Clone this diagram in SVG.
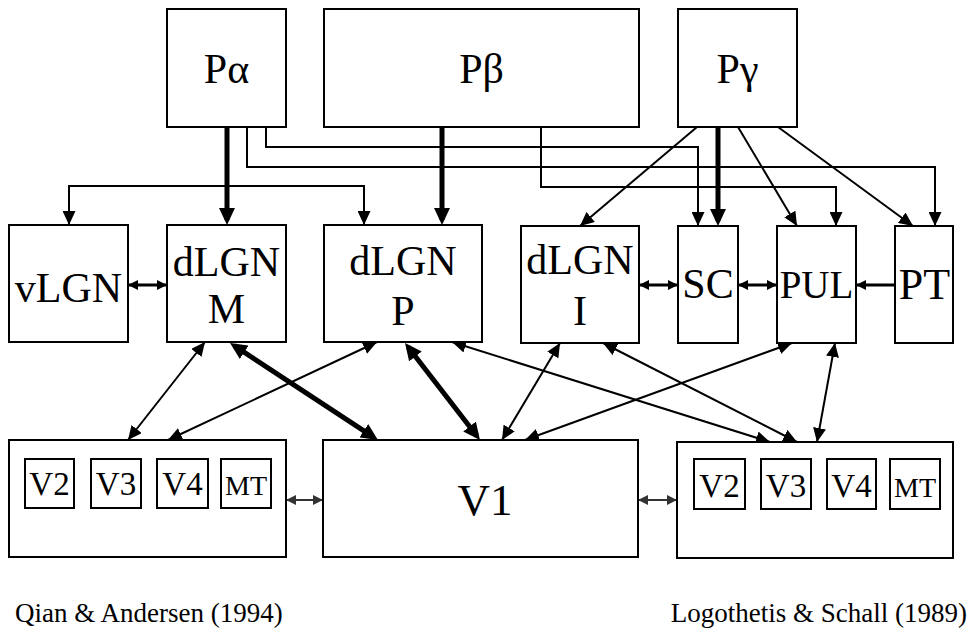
<svg xmlns="http://www.w3.org/2000/svg" width="970" height="631" viewBox="0 0 970 631">
<style>
  .box { fill: #fff; stroke: #000; stroke-width: 2; }
  .sbox { fill: #fff; stroke: #000; stroke-width: 2; }
  .lbl { font-family: "Liberation Serif", "Times New Roman", serif; fill: #000; text-anchor: middle; }
  .big { font-size: 42px; }
  .small { font-size: 33px; }
  .cap { font-family: "Liberation Serif", "Times New Roman", serif; font-size: 27px; fill: #000; }
  .thin { fill: none; stroke: #000; stroke-width: 2; }
  .thick { fill: none; stroke: #000; stroke-width: 5; }
  .hz { fill: none; stroke: #000; stroke-width: 3; }
  .gz { fill: none; stroke: #333; stroke-width: 2; }
</style>
<defs>
  <marker id="ah" viewBox="0 0 14 13" markerWidth="14" markerHeight="13" refX="14" refY="6.5" orient="auto-start-reverse" markerUnits="userSpaceOnUse">
    <path d="M0,0 L14,6.5 L0,13 z" fill="#000"/>
  </marker>
  <marker id="ahT" viewBox="0 0 17 16" markerWidth="17" markerHeight="16" refX="12" refY="8" orient="auto-start-reverse" markerUnits="userSpaceOnUse">
    <path d="M0,0 L17,8 L0,16 z" fill="#000"/>
  </marker>
  <marker id="ahS" viewBox="0 0 10 10" markerWidth="10" markerHeight="10" refX="10" refY="5" orient="auto-start-reverse" markerUnits="userSpaceOnUse">
    <path d="M0,0 L10,5 L0,10 z" fill="#000"/>
  </marker>
  <marker id="ahG" viewBox="0 0 10 10" markerWidth="10" markerHeight="10" refX="10" refY="5" orient="auto-start-reverse" markerUnits="userSpaceOnUse">
    <path d="M0,0 L10,5 L0,10 z" fill="#333"/>
  </marker>
</defs>
<rect width="970" height="631" fill="#fff"/>

<g id="connectors">
  <!-- from P-alpha -->
  <path class="thick" d="M227,127 V220" marker-end="url(#ahT)"/>
  <path class="thin" d="M227,186 H69 V225" marker-end="url(#ah)"/>
  <path class="thin" d="M227,186 H364 V225" marker-end="url(#ah)"/>
  <path class="thin" d="M266,127 V147 H698 V226" marker-end="url(#ah)"/>
  <path class="thin" d="M247,127 V167 H935 V226" marker-end="url(#ah)"/>
  <!-- from P-beta -->
  <path class="thick" d="M442,127 V220" marker-end="url(#ahT)"/>
  <path class="thin" d="M541,127 V187 H836 V226" marker-end="url(#ah)"/>
  <!-- from P-gamma -->
  <path class="thick" d="M718,127 V221" marker-end="url(#ahT)"/>
  <path class="thin" d="M697,127 L580,226" marker-end="url(#ah)"/>
  <path class="thin" d="M738,127 L797,226" marker-end="url(#ah)"/>
  <path class="thin" d="M778,127 L913,226" marker-end="url(#ah)"/>
  <!-- middle row horizontals -->
  <path class="hz" d="M128,285 H167" marker-start="url(#ahS)" marker-end="url(#ahS)"/>
  <path class="hz" d="M639,285 H678" marker-start="url(#ahS)" marker-end="url(#ahS)"/>
  <path class="hz" d="M738,285 H777" marker-start="url(#ahS)" marker-end="url(#ahS)"/>
  <path class="hz" d="M895,285 H856" marker-end="url(#ahS)"/>
  <!-- middle to bottom -->
  <path class="thin" d="M205,342 L128,440" marker-start="url(#ah)" marker-end="url(#ah)"/>
  <path class="thick" d="M234.2,345.7 L373.8,437.3" marker-start="url(#ahT)" marker-end="url(#ahT)"/>
  <path class="thin" d="M377,342 L168,440" marker-start="url(#ah)" marker-end="url(#ah)"/>
  <path class="thick" d="M408.1,347 L476.9,436" marker-start="url(#ahT)" marker-end="url(#ahT)"/>
  <path class="thin" d="M452,342 L770,442" marker-start="url(#ah)" marker-end="url(#ah)"/>
  <path class="thin" d="M560,343 L502,440" marker-start="url(#ah)" marker-end="url(#ah)"/>
  <path class="thin" d="M603,343 L797,442" marker-start="url(#ah)" marker-end="url(#ah)"/>
  <path class="thin" d="M792,343 L525,440" marker-start="url(#ah)" marker-end="url(#ah)"/>
  <path class="thin" d="M835,343 L817,442" marker-start="url(#ah)" marker-end="url(#ah)"/>
  <!-- bottom horizontals -->
  <path class="gz" d="M286,500 H323" marker-start="url(#ahG)" marker-end="url(#ahG)"/>
  <path class="gz" d="M638,500 H677" marker-start="url(#ahG)" marker-end="url(#ahG)"/>
</g>

<g id="P-alpha">
  <rect class="box" x="167" y="9" width="119" height="118"/>
  <text class="lbl big" x="226.5" y="83">Pα</text>
</g>
<g id="P-beta">
  <rect class="box" x="324" y="9" width="315" height="118"/>
  <text class="lbl big" x="481.5" y="83">Pβ</text>
</g>
<g id="P-gamma">
  <rect class="box" x="678" y="9" width="119" height="118"/>
  <text class="lbl big" x="737.5" y="83">Pγ</text>
</g>

<g id="vLGN">
  <rect class="box" x="9" y="225" width="119" height="117"/>
  <text class="lbl big" x="68.5" y="302">vLGN</text>
</g>
<g id="dLGN-M">
  <rect class="box" x="167" y="225" width="119" height="117"/>
  <text class="lbl big" x="226.5" y="276">dLGN</text>
  <text class="lbl big" x="226.5" y="323">M</text>
</g>
<g id="dLGN-P">
  <rect class="box" x="324" y="225" width="158" height="117"/>
  <text class="lbl big" x="403" y="275">dLGN</text>
  <text class="lbl big" x="403" y="325">P</text>
</g>
<g id="dLGN-I">
  <rect class="box" x="521" y="226" width="118" height="117"/>
  <text class="lbl big" x="580" y="274">dLGN</text>
  <text class="lbl big" x="580" y="325">I</text>
</g>
<g id="SC">
  <rect class="box" x="678" y="226" width="60" height="117"/>
  <text class="lbl big" x="708" y="298">SC</text>
</g>
<g id="PUL">
  <rect class="box" x="777" y="226" width="79" height="117"/>
  <text class="lbl" x="816.5" y="298" font-size="39">PUL</text>
</g>
<g id="PT">
  <rect class="box" x="895" y="226" width="58" height="117"/>
  <text class="lbl" x="924.5" y="299" font-size="44">PT</text>
</g>

<g id="extrastriate-left">
  <rect class="box" x="9" y="440" width="277" height="117"/>
  <rect class="sbox" x="25" y="459" width="49" height="49"/>
  <text class="lbl small" x="49.5" y="495">V2</text>
  <rect class="sbox" x="91" y="459" width="50" height="49"/>
  <text class="lbl small" x="116" y="495">V3</text>
  <rect class="sbox" x="157" y="459" width="51" height="49"/>
  <text class="lbl small" x="182.5" y="495">V4</text>
  <rect class="sbox" x="221" y="459" width="50" height="49"/>
  <text class="lbl" x="246" y="495" font-size="28">MT</text>
</g>
<g id="V1">
  <rect class="box" x="323" y="440" width="315" height="117"/>
  <text class="lbl" x="485" y="515" font-size="45">V1</text>
</g>
<g id="extrastriate-right">
  <rect class="box" x="677" y="442" width="276" height="116"/>
  <rect class="sbox" x="694" y="459" width="51" height="50"/>
  <text class="lbl small" x="719.5" y="497">V2</text>
  <rect class="sbox" x="761" y="459" width="50" height="50"/>
  <text class="lbl small" x="786" y="497">V3</text>
  <rect class="sbox" x="827" y="459" width="49" height="50"/>
  <text class="lbl small" x="851.5" y="497">V4</text>
  <rect class="sbox" x="890" y="459" width="50" height="50"/>
  <text class="lbl" x="915" y="497" font-size="28">MT</text>
</g>

<text class="cap" x="15" y="622">Qian &amp; Andersen (1994)</text>
<text class="cap" x="967" y="622" text-anchor="end">Logothetis &amp; Schall (1989)</text>
</svg>
